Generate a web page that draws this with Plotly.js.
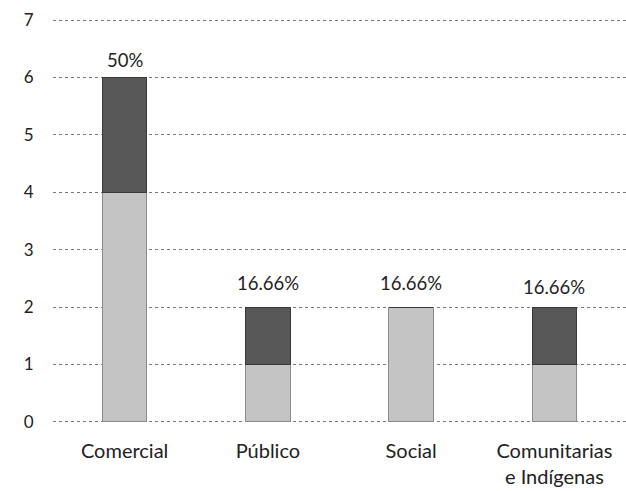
<!DOCTYPE html>
<html>
<head>
<meta charset="utf-8">
<script src="https://cdn.plot.ly/plotly-3.0.1.min.js"></script>
<style>html,body{margin:0;padding:0;background:#fff;}#chart{width:626px;height:491px;}</style>
</head>
<body>
<div id="chart"></div>
<script>
var categories = ["Comercial", "Público", "Social", "Comunitarias<br>e Indígenas"];
var lightValues = [4, 1, 2, 1];
var darkValues = [2, 1, 0, 1];
var pctLabels = ["50%", "16.66%", "16.66%", "16.66%"];
var labelShift = [5, 11, 11, 7];

var totals = categories.map(function(c, i){ return lightValues[i] + darkValues[i]; });

var font = "Lato, 'Open Sans', 'Liberation Sans', sans-serif";

var traces = [
  {type: "bar", x: categories, y: lightValues, marker: {color: "#c4c4c4", line: {color: "#8a8a8a", width: 1}}, width: 0.31, hoverinfo: "none"},
  {type: "bar", x: categories, y: darkValues, marker: {color: "#575757", line: {color: "#3a3a3a", width: 1}}, width: 0.31, hoverinfo: "none"}
];

var annotations = categories.map(function(c, i){
  return {x: c, y: totals[i], xref: "x", yref: "y", text: pctLabels[i], showarrow: false,
          yanchor: "bottom", yshift: labelShift[i], font: {family: font, size: 18.5, color: "#222"}};
});

var layout = {
  width: 626, height: 491,
  margin: {l: 53, r: 0, t: 19, b: 67.5},
  paper_bgcolor: "#fff", plot_bgcolor: "#fff",
  barmode: "stack",
  showlegend: false,
  font: {family: font, color: "#222"},
  xaxis: {
    range: [-0.5, 3.5], showgrid: false, zeroline: false, showline: false,
    ticks: "outside", ticklen: 10, tickcolor: "rgba(0,0,0,0)",
    tickfont: {family: font, size: 20, color: "#222"}
  },
  yaxis: {
    range: [-0.02, 7.02], tickvals: [0, 1, 2, 3, 4, 5, 6, 7], showgrid: true, gridcolor: "#7a7a7a", gridwidth: 1, griddash: "dot",
    zeroline: false, showline: false,
    ticks: "outside", ticklen: 15, tickcolor: "rgba(0,0,0,0)",
    tickfont: {family: font, size: 17, color: "#222"}
  },
  annotations: annotations
};

Plotly.newPlot("chart", traces, layout, {displayModeBar: false, staticPlot: true});
</script>
</body>
</html>
